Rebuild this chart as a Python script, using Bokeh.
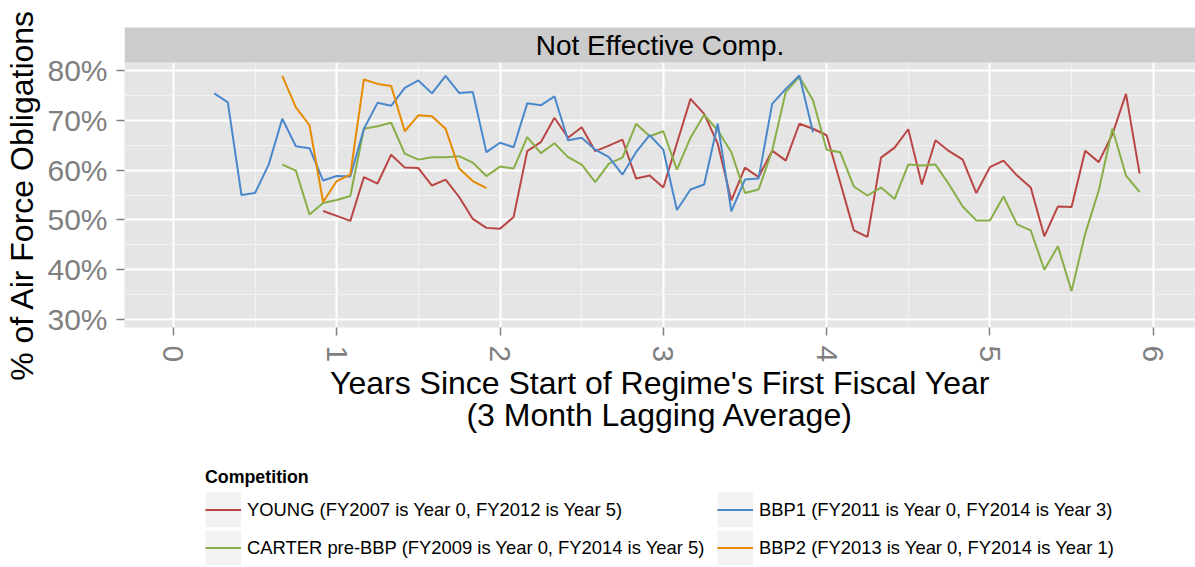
from bokeh.plotting import figure
from bokeh.layouts import column
from bokeh.models import (Range1d, SingleIntervalTicker, PrintfTickFormatter, Legend,
                          LegendItem, Title)
from bokeh.embed import file_html
from bokeh.resources import INLINE

FONT = "Liberation Sans"
NAN = float("nan")

panel_title = "Not Effective Comp."
y_title = "% of Air Force Obligations"
x_title_1 = "Years Since Start of Regime's First Fiscal Year"
x_title_2 = "(3 Month Lagging Average)"
legend_title = "Competition"

names = [
    "YOUNG (FY2007 is Year 0, FY2012 is Year 5)",
    "CARTER pre-BBP (FY2009 is Year 0, FY2014 is Year 5)",
    "BBP1 (FY2011 is Year 0, FY2014 is Year 3)",
    "BBP2 (FY2013 is Year 0, FY2014 is Year 1)",
]
colors = ["#B94644", "#88AE48", "#4B88CB", "#E68A00"]

# months since start of regime's first fiscal year
young_months = list(range(11, 72))
young_pct = [51.8, 50.8, 49.8, 58.6, 57.3, 63.1, 60.5, 60.4, 56.9, 58.1,
             54.6, 50.2, 48.4, 48.2, 50.6, 63.8, 65.6, 70.5, 66.5, 68.6,
             63.8, 64.9, 66.1, 58.3, 58.9, 56.5, 65.4, 74.3, 71.3, 65.3,
             53.9, 60.5, 58.6, 63.9, 61.9, 69.3, 68.3, 67.0, 57.5, 47.9,
             46.6, 62.5, 64.5, 68.2, 57.1, 66.0, 63.8, 62.1, 55.4, 60.6,
             61.9, 58.9, 56.5, 46.7, 52.7, 52.6, 63.9, 61.6, 67.2, 75.3,
             59.3]

carter_months = list(range(8, 72))
carter_pct = [61.1, 59.9, 51.1, 53.4, 54.0, 54.8, 68.3, 68.8, 69.5, 63.3,
              62.1, 62.6, 62.6, 62.8, 61.5, 58.8, 60.7, 60.3, 66.6, 63.4,
              65.4, 62.6, 61.1, 57.6, 61.3, 62.5, 69.3, 66.8, 67.8, 60.1,
              66.5, 71.1, 68.0, 63.6, 55.4, 56.1, 63.9, 75.7, 78.7, 74.0,
              64.1, 63.6, 56.7, 54.9, 56.5, 54.2, 61.1, 60.9, 61.1, 57.1,
              52.7, 49.9, 49.9, 54.7, 49.1, 47.9, 40.0, 44.7, 35.7, 47.2,
              55.9, 68.3, 58.9, 55.6]

bbp1_months = list(range(3, 48))
bbp1_pct = [75.4, 73.6, 55.0, 55.4, 61.1, 70.3, 64.8, 64.4, 57.9, 58.8,
            58.7, 68.3, 73.5, 72.9, 76.5, 78.0, 75.4, 78.9, 75.5, 75.7,
            63.6, 65.5, 64.6, 73.4, 73.0, 74.8, 66.0, 66.5, 64.1, 62.6,
            59.1, 63.6, 67.0, 64.1, 52.0, 56.1, 57.1, 69.3, 51.7, 58.1,
            58.3, 73.3, 76.3, 79.0, 67.6]

bbp2_months = list(range(8, 24))
bbp2_pct = [78.9, 72.6, 69.0, 53.6, 57.8, 59.1, 78.2, 77.3, 76.9, 67.8,
            71.0, 70.8, 68.3, 60.3, 57.8, 56.4]

series = [(young_months, young_pct), (carter_months, carter_pct),
          (bbp1_months, bbp1_pct), (bbp2_months, bbp2_pct)]

W = 1195
H_MAIN = 457
H_LEG = 110

p = figure(width=W, height=H_MAIN, x_range=Range1d(-0.2995, 6.259),
           y_range=Range1d(28.4, 81.6), toolbar_location=None,
           output_backend="svg", min_border_left=124, min_border_right=0,
           min_border_top=62, min_border_bottom=130,
           background_fill_color="#E5E5E5", border_fill_color="white",
           outline_line_color=None, title=None)

strip = Title(text=panel_title, align="center", vertical_align="bottom",
              text_font=FONT, text_font_size="28px", text_font_style="normal",
              text_color="black", background_fill_color="#CCCCCC",
              padding=(411, 2), standoff=0, offset=0)
p.add_layout(strip, "above")

p.xaxis.ticker = SingleIntervalTicker(interval=1, num_minor_ticks=2)
p.yaxis.ticker = SingleIntervalTicker(interval=10, num_minor_ticks=2)
p.xgrid.ticker = p.xaxis.ticker
p.ygrid.ticker = p.yaxis.ticker
p.yaxis.formatter = PrintfTickFormatter(format="%d%%")

for g in (p.xgrid, p.ygrid):
    g.grid_line_color = "white"
    g.grid_line_width = 2
    g.minor_grid_line_color = "#F2F2F2"
    g.minor_grid_line_width = 1

for ax in (p.xaxis, p.yaxis):
    ax.axis_line_color = None
    ax.minor_tick_line_color = None
    ax.major_tick_line_color = "#7F7F7F"
    ax.major_tick_line_width = 1.5
    ax.major_tick_out = 8
    ax.major_tick_in = 0
    ax.major_label_text_font = FONT
    ax.major_label_text_font_size = "30px"
    ax.major_label_text_color = "#7F7F7F"
    ax.axis_label_text_font = FONT
    ax.axis_label_text_font_size = "32px"
    ax.axis_label_text_font_style = "normal"
    ax.axis_label_text_color = "black"

p.xaxis.major_label_orientation = "vertical"
p.xaxis.major_label_standoff = 10
p.xaxis.axis_label = x_title_1 + "\n" + x_title_2
p.xaxis.axis_label_text_line_height = 0.87
p.xaxis.axis_label_standoff = 0
p.yaxis.major_label_standoff = 9
p.yaxis.axis_label = y_title
p.yaxis.axis_label_standoff = 4

for (months, pct), c in zip(series, colors):
    xs = [m / 12 for m in months]
    p.line(xs, pct, line_color=c, line_width=2)

# ---- legend (own canvas below the panel) ----
lf = figure(width=W, height=H_LEG, x_range=Range1d(0, 1), y_range=Range1d(0, 1),
            x_axis_type=None, y_axis_type=None, toolbar_location=None,
            output_backend="svg", min_border=0, min_border_left=0,
            min_border_right=0, min_border_top=0, min_border_bottom=0,
            background_fill_color="white", border_fill_color="white",
            outline_line_color=None, title=None)
lf.xgrid.visible = False
lf.ygrid.visible = False

# grey key background (legend proxy only, holds no data)
key_box = lf.line([NAN], [NAN], line_color="#F2F2F2", line_width=35, line_cap="butt")
items = []
for n, c in zip(names, colors):
    r = lf.line([NAN], [NAN], line_color=c, line_width=2)
    items.append(LegendItem(label=n, renderers=[key_box, r]))

legend = Legend(items=items, location=(81, 2), orientation="vertical", ncols=2,
                title=legend_title, title_text_font=FONT, title_text_font_size="17.8px",
                title_text_font_style="bold", title_text_color="black", title_standoff=4,
                label_text_font=FONT, label_text_font_size="18.4px",
                label_text_color="black", glyph_width=36, glyph_height=35,
                label_height=35, label_standoff=6, label_width=467, spacing=3,
                padding=0, margin=0, background_fill_alpha=0, border_line_color=None)
lf.add_layout(legend)

layout = column(p, lf, spacing=0)
open("out.html", "w").write(file_html(layout, INLINE))
